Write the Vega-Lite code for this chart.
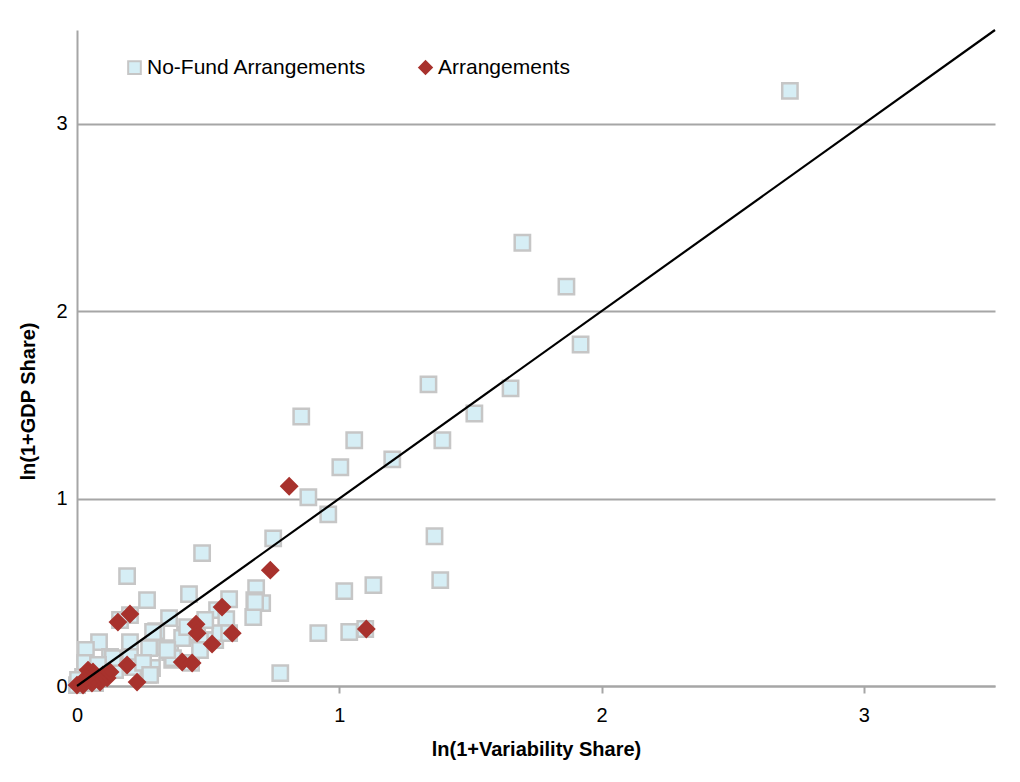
{
  "$schema": "https://vega.github.io/schema/vega-lite/v6.json",
  "autosize": "none",
  "width": 918,
  "height": 656,
  "padding": {"left": 77, "top": 30, "right": 25, "bottom": 96},
  "background": "white",
  "config": {
    "font": "Liberation Sans",
    "view": {"stroke": null},
    "axis": {"labelFont": "Liberation Sans", "titleFont": "Liberation Sans", "labelColor": "#000000", "titleColor": "#000000"},
    "legend": {"labelFont": "Liberation Sans"}
  },
  "datasets": {
    "pts": [
      {"x": 2.718, "y": 3.175, "s": "No-Fund Arrangements"},
      {"x": 1.698, "y": 2.365, "s": "No-Fund Arrangements"},
      {"x": 1.866, "y": 2.131, "s": "No-Fund Arrangements"},
      {"x": 1.920, "y": 1.822, "s": "No-Fund Arrangements"},
      {"x": 1.340, "y": 1.609, "s": "No-Fund Arrangements"},
      {"x": 1.653, "y": 1.588, "s": "No-Fund Arrangements"},
      {"x": 1.515, "y": 1.454, "s": "No-Fund Arrangements"},
      {"x": 0.855, "y": 1.438, "s": "No-Fund Arrangements"},
      {"x": 1.057, "y": 1.311, "s": "No-Fund Arrangements"},
      {"x": 1.393, "y": 1.311, "s": "No-Fund Arrangements"},
      {"x": 1.202, "y": 1.209, "s": "No-Fund Arrangements"},
      {"x": 1.004, "y": 1.167, "s": "No-Fund Arrangements"},
      {"x": 0.882, "y": 1.007, "s": "No-Fund Arrangements"},
      {"x": 0.958, "y": 0.916, "s": "No-Fund Arrangements"},
      {"x": 1.363, "y": 0.799, "s": "No-Fund Arrangements"},
      {"x": 0.748, "y": 0.788, "s": "No-Fund Arrangements"},
      {"x": 0.477, "y": 0.709, "s": "No-Fund Arrangements"},
      {"x": 1.385, "y": 0.565, "s": "No-Fund Arrangements"},
      {"x": 1.130, "y": 0.538, "s": "No-Fund Arrangements"},
      {"x": 1.019, "y": 0.506, "s": "No-Fund Arrangements"},
      {"x": 0.191, "y": 0.586, "s": "No-Fund Arrangements"},
      {"x": 0.427, "y": 0.490, "s": "No-Fund Arrangements"},
      {"x": 0.267, "y": 0.458, "s": "No-Fund Arrangements"},
      {"x": 0.683, "y": 0.522, "s": "No-Fund Arrangements"},
      {"x": 0.706, "y": 0.442, "s": "No-Fund Arrangements"},
      {"x": 0.580, "y": 0.463, "s": "No-Fund Arrangements"},
      {"x": 0.676, "y": 0.458, "s": "No-Fund Arrangements"},
      {"x": 0.672, "y": 0.368, "s": "No-Fund Arrangements"},
      {"x": 0.534, "y": 0.405, "s": "No-Fund Arrangements"},
      {"x": 0.569, "y": 0.357, "s": "No-Fund Arrangements"},
      {"x": 0.351, "y": 0.362, "s": "No-Fund Arrangements"},
      {"x": 0.302, "y": 0.293, "s": "No-Fund Arrangements"},
      {"x": 0.412, "y": 0.272, "s": "No-Fund Arrangements"},
      {"x": 0.458, "y": 0.288, "s": "No-Fund Arrangements"},
      {"x": 0.481, "y": 0.245, "s": "No-Fund Arrangements"},
      {"x": 0.527, "y": 0.245, "s": "No-Fund Arrangements"},
      {"x": 0.546, "y": 0.282, "s": "No-Fund Arrangements"},
      {"x": 0.355, "y": 0.181, "s": "No-Fund Arrangements"},
      {"x": 0.363, "y": 0.139, "s": "No-Fund Arrangements"},
      {"x": 0.435, "y": 0.123, "s": "No-Fund Arrangements"},
      {"x": 0.286, "y": 0.208, "s": "No-Fund Arrangements"},
      {"x": 0.286, "y": 0.096, "s": "No-Fund Arrangements"},
      {"x": 0.271, "y": 0.059, "s": "No-Fund Arrangements"},
      {"x": 0.920, "y": 0.282, "s": "No-Fund Arrangements"},
      {"x": 1.038, "y": 0.288, "s": "No-Fund Arrangements"},
      {"x": 1.099, "y": 0.304, "s": "No-Fund Arrangements"},
      {"x": 0.775, "y": 0.069, "s": "No-Fund Arrangements"},
      {"x": 0.580, "y": 0.282, "s": "No-Fund Arrangements"},
      {"x": 0.202, "y": 0.378, "s": "No-Fund Arrangements"},
      {"x": 0.084, "y": 0.234, "s": "No-Fund Arrangements"},
      {"x": 0.034, "y": 0.192, "s": "No-Fund Arrangements"},
      {"x": 0.202, "y": 0.234, "s": "No-Fund Arrangements"},
      {"x": 0.275, "y": 0.202, "s": "No-Fund Arrangements"},
      {"x": 0.126, "y": 0.155, "s": "No-Fund Arrangements"},
      {"x": 0.202, "y": 0.155, "s": "No-Fund Arrangements"},
      {"x": 0.214, "y": 0.101, "s": "No-Fund Arrangements"},
      {"x": 0.355, "y": 0.202, "s": "No-Fund Arrangements"},
      {"x": 0.366, "y": 0.149, "s": "No-Fund Arrangements"},
      {"x": 0.145, "y": 0.085, "s": "No-Fund Arrangements"},
      {"x": 0.038, "y": 0.101, "s": "No-Fund Arrangements"},
      {"x": 0.679, "y": 0.448, "s": "No-Fund Arrangements"},
      {"x": 0.401, "y": 0.256, "s": "No-Fund Arrangements"},
      {"x": 0.420, "y": 0.314, "s": "No-Fund Arrangements"},
      {"x": 0.469, "y": 0.192, "s": "No-Fund Arrangements"},
      {"x": 0.164, "y": 0.352, "s": "No-Fund Arrangements"},
      {"x": 0.137, "y": 0.149, "s": "No-Fund Arrangements"},
      {"x": 0.290, "y": 0.288, "s": "No-Fund Arrangements"},
      {"x": 0.031, "y": 0.123, "s": "No-Fund Arrangements"},
      {"x": 0.252, "y": 0.123, "s": "No-Fund Arrangements"},
      {"x": 0.279, "y": 0.059, "s": "No-Fund Arrangements"},
      {"x": 0.011, "y": 0.021, "s": "No-Fund Arrangements"},
      {"x": 0.023, "y": 0.048, "s": "No-Fund Arrangements"},
      {"x": 0.000, "y": 0.005, "s": "No-Fund Arrangements"},
      {"x": 0.004, "y": 0.032, "s": "No-Fund Arrangements"},
      {"x": 0.050, "y": 0.043, "s": "No-Fund Arrangements"},
      {"x": 0.069, "y": 0.016, "s": "No-Fund Arrangements"},
      {"x": 0.088, "y": 0.053, "s": "No-Fund Arrangements"},
      {"x": 0.344, "y": 0.192, "s": "No-Fund Arrangements"},
      {"x": 0.080, "y": 0.112, "s": "No-Fund Arrangements"},
      {"x": 0.489, "y": 0.352, "s": "No-Fund Arrangements"},
      {"x": 0.809, "y": 1.066, "s": "Arrangements"},
      {"x": 0.737, "y": 0.618, "s": "Arrangements"},
      {"x": 0.553, "y": 0.421, "s": "Arrangements"},
      {"x": 0.454, "y": 0.330, "s": "Arrangements"},
      {"x": 0.458, "y": 0.282, "s": "Arrangements"},
      {"x": 0.592, "y": 0.282, "s": "Arrangements"},
      {"x": 0.515, "y": 0.224, "s": "Arrangements"},
      {"x": 0.401, "y": 0.128, "s": "Arrangements"},
      {"x": 0.439, "y": 0.123, "s": "Arrangements"},
      {"x": 1.103, "y": 0.304, "s": "Arrangements"},
      {"x": 0.202, "y": 0.384, "s": "Arrangements"},
      {"x": 0.156, "y": 0.341, "s": "Arrangements"},
      {"x": 0.191, "y": 0.112, "s": "Arrangements"},
      {"x": 0.229, "y": 0.021, "s": "Arrangements"},
      {"x": 0.042, "y": 0.085, "s": "Arrangements"},
      {"x": 0.061, "y": 0.075, "s": "Arrangements"},
      {"x": 0.099, "y": 0.059, "s": "Arrangements"},
      {"x": 0.115, "y": 0.043, "s": "Arrangements"},
      {"x": 0.088, "y": 0.021, "s": "Arrangements"},
      {"x": 0.057, "y": 0.016, "s": "Arrangements"},
      {"x": 0.000, "y": 0.005, "s": "Arrangements"},
      {"x": 0.023, "y": 0.005, "s": "Arrangements"},
      {"x": 0.126, "y": 0.075, "s": "Arrangements"},
      {"x": 0.034, "y": 0.043, "s": "Arrangements"}
    ],
    "diag": [
      {"x": 0, "y": 0},
      {"x": 3.5, "y": 3.5}
    ]
  },
  "layer": [
    {
      "data": {"name": "pts"},
      "mark": {"type": "point", "filled": true, "size": 235, "strokeWidth": 2.5, "opacity": 1},
      "encoding": {
        "x": {
          "field": "x", "type": "quantitative",
          "scale": {"domain": [0, 3.5], "nice": false, "zero": false},
          "axis": {
            "title": "ln(1+Variability Share)", "values": [0, 1, 2, 3], "format": "d",
            "grid": false, "domainColor": "#A6A6A6", "domainWidth": 2,
            "tickColor": "#A6A6A6", "tickWidth": 2, "tickSize": 7,
            "labelFontSize": 20, "labelPadding": 12, "labelFlush": false,
            "titleFontSize": 20, "titleFontWeight": "bold", "titlePadding": 14
          }
        },
        "y": {
          "field": "y", "type": "quantitative",
          "scale": {"domain": [0, 3.5], "nice": false, "zero": false},
          "axis": {
            "title": "ln(1+GDP Share)", "values": [0, 1, 2, 3], "format": "d",
            "grid": true, "gridColor": "#A6A6A6", "gridWidth": 2,
            "domainColor": "#A6A6A6", "domainWidth": 2,
            "ticks": false, "tickSize": 0,
            "labelFontSize": 20, "labelPadding": 10, "labelFlush": false,
            "titleFontSize": 20, "titleFontWeight": "bold",
            "titleX": -39, "titleY": 371
          }
        },
        "shape": {
          "field": "s", "type": "nominal", "title": null,
          "scale": {"domain": ["No-Fund Arrangements", "Arrangements"], "range": ["square", "diamond"]}
        },
        "fill": {
          "field": "s", "type": "nominal", "title": null,
          "scale": {"domain": ["No-Fund Arrangements", "Arrangements"], "range": ["#D6EEF5", "#A8322D"]},
          "legend": {
            "orient": "none", "direction": "horizontal",
            "legendX": 47, "legendY": 27,
            "labelFontSize": 21, "labelColor": "#000000", "labelLimit": 400,
            "labelOffset": 2, "columnPadding": 48, "symbolSize": 160, "symbolStrokeWidth": 2
          }
        },
        "stroke": {
          "field": "s", "type": "nominal", "title": null,
          "scale": {"domain": ["No-Fund Arrangements", "Arrangements"], "range": ["#C6C6C6", "#A8322D"]}
        }
      }
    },
    {
      "data": {"name": "diag"},
      "mark": {"type": "line", "color": "#000000", "strokeWidth": 2.2},
      "encoding": {
        "x": {"field": "x", "type": "quantitative"},
        "y": {"field": "y", "type": "quantitative"}
      }
    }
  ]
}
